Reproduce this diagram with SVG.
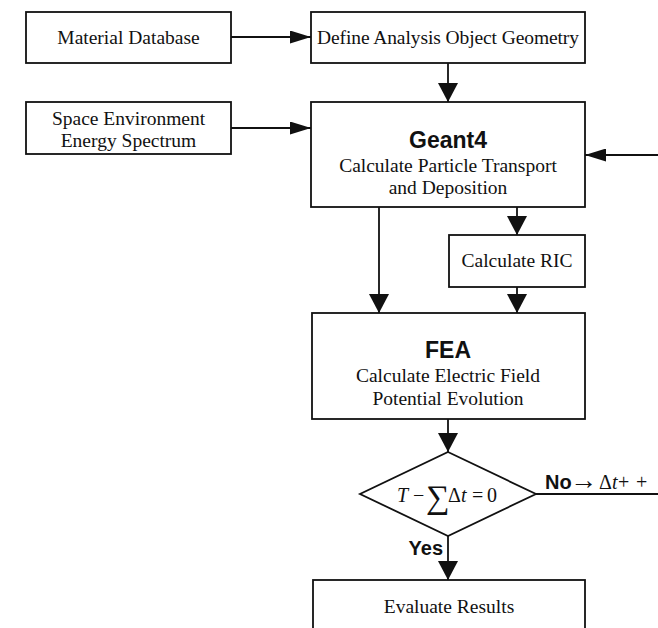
<svg xmlns="http://www.w3.org/2000/svg" width="658" height="628" viewBox="0 0 658 628">
<style>
.box{fill:#fff;stroke:#111;stroke-width:1.8}
.t{font-family:"Liberation Serif","Times New Roman",serif;font-size:19.5px;fill:#111;text-anchor:middle}
.b{font-family:"Liberation Sans",Arial,sans-serif;font-weight:bold;font-size:23px;fill:#111;text-anchor:middle}
.lb{font-family:"Liberation Sans",Arial,sans-serif;font-weight:bold;font-size:20px;fill:#111}
.m{font-family:"Liberation Serif","Times New Roman",serif;font-size:20px;fill:#111}
.c{fill:none;stroke:#111;stroke-width:1.8}
</style>
<defs>
<marker id="ah" viewBox="0 0 21 13" refX="21" refY="6.5" markerWidth="21" markerHeight="13" markerUnits="userSpaceOnUse" orient="auto"><path d="M0,0 L21,6.5 L0,13 z" fill="#111"/></marker>
<marker id="av" viewBox="0 0 19 20" refX="19" refY="10" markerWidth="19" markerHeight="20" markerUnits="userSpaceOnUse" orient="auto"><path d="M0,0 L19,10 L0,20 z" fill="#111"/></marker>
</defs>
<rect width="658" height="628" fill="#fff"/>
<g id="connectors">
<line class="c" x1="231" y1="37" x2="311" y2="37" marker-end="url(#ah)"/>
<line class="c" x1="448" y1="63" x2="448" y2="102" marker-end="url(#av)"/>
<line class="c" x1="231" y1="128" x2="311" y2="128" marker-end="url(#ah)"/>
<line class="c" x1="658" y1="155" x2="585" y2="155" marker-end="url(#ah)"/>
<line class="c" x1="379" y1="207" x2="379" y2="313" marker-end="url(#av)"/>
<line class="c" x1="517" y1="207" x2="517" y2="235" marker-end="url(#av)"/>
<line class="c" x1="517" y1="287" x2="517" y2="313" marker-end="url(#av)"/>
<line class="c" x1="448" y1="419" x2="448" y2="452" marker-end="url(#av)"/>
<line class="c" x1="536" y1="494" x2="658" y2="494"/>
<line class="c" x1="448" y1="536" x2="448" y2="580" marker-end="url(#av)"/>
<text class="lb" x="545" y="489">No</text>
<text class="m" x="570" y="489" style="font-size:27px">→</text>
<text class="m" y="489"><tspan x="599">Δ</tspan><tspan font-style="italic">t</tspan><tspan x="618">+</tspan><tspan x="636">+</tspan></text>
<text class="lb" x="443" y="555" text-anchor="end">Yes</text>
</g>
<g id="material">
<rect class="box" x="26" y="12" width="205" height="51"/>
<text class="t" x="128.5" y="44">Material Database</text>
</g>
<g id="define">
<rect class="box" x="311" y="12" width="274" height="51"/>
<text class="t" x="448" y="44" textLength="262">Define Analysis Object Geometry</text>
</g>
<g id="space">
<rect class="box" x="26" y="102" width="205" height="52"/>
<text class="t" x="128.5" y="125">Space Environment</text>
<text class="t" x="128.5" y="147">Energy Spectrum</text>
</g>
<g id="geant4">
<rect class="box" x="311" y="102" width="274" height="105"/>
<text class="b" x="448" y="148">Geant4</text>
<text class="t" x="448" y="172">Calculate Particle Transport</text>
<text class="t" x="448" y="194">and Deposition</text>
</g>
<g id="ric">
<rect class="box" x="449" y="235" width="136" height="52"/>
<text class="t" x="517" y="267">Calculate RIC</text>
</g>
<g id="fea">
<rect class="box" x="312" y="313" width="273" height="106"/>
<text class="b" x="448" y="358">FEA</text>
<text class="t" x="448" y="382">Calculate Electric Field</text>
<text class="t" x="448" y="405">Potential Evolution</text>
</g>
<g id="decision">
<polygon class="box" points="448,452 536,494 448,536 360,494"/>
<text class="m" y="502"><tspan x="397" font-style="italic">T</tspan><tspan x="413">−</tspan><tspan x="426" y="508" font-size="33">∑</tspan><tspan x="448" y="502">Δ</tspan><tspan font-style="italic">t</tspan><tspan x="472">=</tspan><tspan x="487">0</tspan></text>
</g>
<g id="evaluate">
<rect class="box" x="313" y="580" width="272" height="60"/>
<text class="t" x="449" y="613">Evaluate Results</text>
</g>
</svg>
